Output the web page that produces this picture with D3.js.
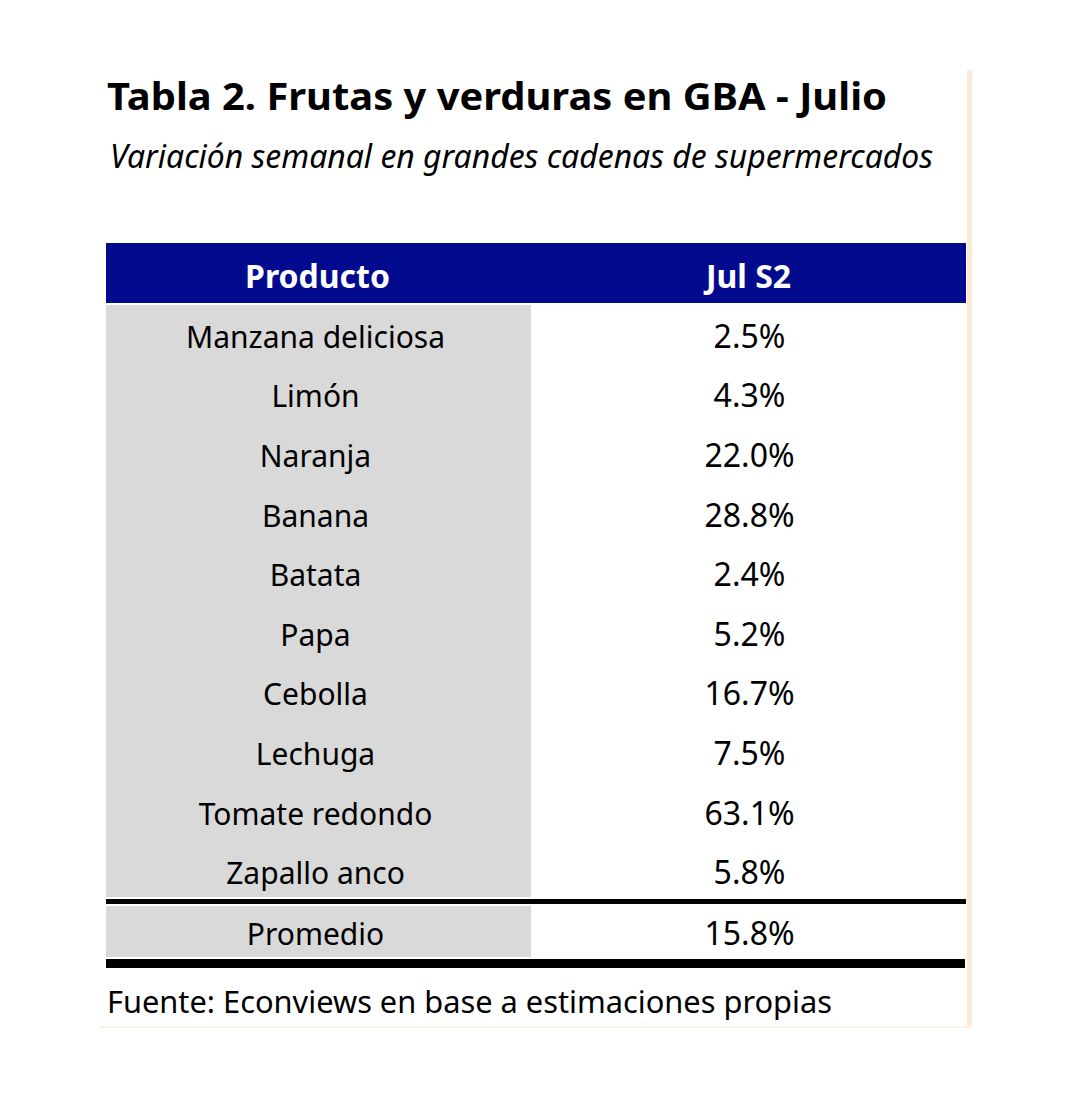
<!DOCTYPE html>
<html><head><meta charset="utf-8">
<script src="https://cdn.jsdelivr.net/npm/d3@7"></script>
<style>body{margin:0;background:#fff}svg{display:block}</style>
</head><body>
<script>
const title = "Tabla 2. Frutas y verduras en GBA - Julio";
const subtitle = "Variación semanal en grandes cadenas de supermercados";
const headers = ["Producto", "Jul S2"];
const products = ["Manzana deliciosa","Limón","Naranja","Banana","Batata","Papa","Cebolla","Lechuga","Tomate redondo","Zapallo anco"];
const values = [2.5, 4.3, 22.0, 28.8, 2.4, 5.2, 16.7, 7.5, 63.1, 5.8];
const avgLabel = "Promedio";
const avgValue = 15.8;
const source = "Fuente: Econviews en base a estimaciones propias";

const W = 1080, H = 1100;
const svg = d3.select("body").append("svg").attr("width", W).attr("height", H);
const font = "'Noto Sans', 'Open Sans', sans-serif";
const fmt = v => d3.format(".1f")(v) + "%";

const L = 106, R = 966, MID = 531;
const col = d3.scaleOrdinal().domain(headers).range([[L, MID], [MID, R]]);
const rows = d3.scaleBand().domain(products).range([303, 899]);

// peach frame edges
svg.append("rect").attr("x", 967).attr("y", 70).attr("width", 5).attr("height", 958).attr("fill", "#fdeadb");
svg.append("rect").attr("x", 100).attr("y", 1026).attr("width", 872).attr("height", 2).attr("fill", "#fcf0e7");

// title & subtitle
svg.append("text").attr("x", 107).attr("y", 110).attr("font-family", font).attr("font-weight", 700)
  .attr("font-size", 38).attr("fill", "#000").attr("textLength", 780).attr("lengthAdjust", "spacingAndGlyphs").text(title);
svg.append("text").attr("x", 110).attr("y", 168).attr("font-family", font).attr("font-style", "italic")
  .attr("font-size", 32).attr("fill", "#000").attr("textLength", 823).attr("lengthAdjust", "spacingAndGlyphs").text(subtitle);

// header
svg.append("rect").attr("x", L).attr("y", 243).attr("width", R - L).attr("height", 60).attr("fill", "#020a8e");
headers.forEach(h => {
  const [a, b] = col(h);
  svg.append("text").attr("x", (a + b) / 2 + (h === "Producto" ? -1 : 0)).attr("y", 288).attr("text-anchor", "middle")
    .attr("font-family", font).attr("font-weight", 700).attr("font-size", 32).attr("fill", "#fff").text(h);
});

// grey first column
const [la, lb] = col(headers[0]);
const [ra, rb] = col(headers[1]);
svg.append("rect").attr("x", la).attr("y", 305).attr("width", lb - la).attr("height", 592).attr("fill", "#d9d9d9");

const g = svg.append("g");
products.forEach((p, i) => {
  const cy = rows(p) + rows.bandwidth() / 2;
  g.append("text").attr("x", (la + lb) / 2 - 3).attr("y", cy + 15).attr("text-anchor", "middle")
    .attr("font-family", font).attr("font-size", 30).attr("fill", "#000").text(p);
  g.append("text").attr("x", (ra + rb) / 2 + 1).attr("y", cy + 15).attr("text-anchor", "middle")
    .attr("font-family", font).attr("font-size", 32).attr("fill", "#000").text(fmt(values[i]));
});

// average row
svg.append("rect").attr("x", L).attr("y", 899).attr("width", R - L).attr("height", 5).attr("fill", "#000");
svg.append("rect").attr("x", la).attr("y", 906).attr("width", lb - la).attr("height", 51).attr("fill", "#d9d9d9");
svg.append("text").attr("x", (la + lb) / 2 - 3).attr("y", 945).attr("text-anchor", "middle")
  .attr("font-family", font).attr("font-size", 30).attr("fill", "#000").text(avgLabel);
svg.append("text").attr("x", (ra + rb) / 2 + 1).attr("y", 945).attr("text-anchor", "middle")
  .attr("font-family", font).attr("font-size", 32).attr("fill", "#000").text(fmt(avgValue));
svg.append("rect").attr("x", L).attr("y", 959).attr("width", R - L - 1).attr("height", 9).attr("fill", "#000");

// source
svg.append("text").attr("x", 107).attr("y", 1013).attr("font-family", font).attr("font-size", 30)
  .attr("fill", "#000").attr("textLength", 725).attr("lengthAdjust", "spacingAndGlyphs").text(source);
</script>
</body></html>
